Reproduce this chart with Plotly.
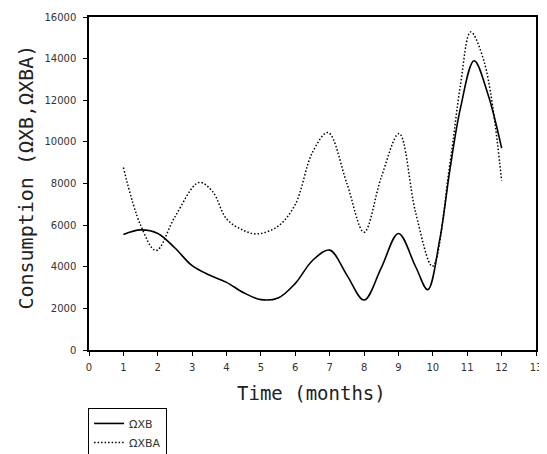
import plotly.graph_objects as go

# Values (months, consumption)
months_xb = [1.0, 1.5, 2.0, 2.5, 3.0, 3.5, 4.0, 4.5, 5.0, 5.5, 6.0, 6.5, 7.0, 7.5,
             8.0, 8.5, 9.0, 9.5, 9.85, 10.2, 10.5, 10.8, 11.2, 11.6, 12.0]
xb = [5550, 5770, 5600, 4900, 4050, 3600, 3250, 2750, 2420, 2500, 3200, 4300, 4800, 3600,
      2400, 3950, 5600, 4000, 2900, 5300, 8700, 11600, 13900, 12300, 9700]

months_xba = [1.0, 1.5, 1.95, 2.5, 3.2, 3.6, 4.0, 4.5, 4.9, 5.5, 6.0, 6.5, 6.95, 7.5,
              8.0, 8.5, 9.02, 9.5, 9.99, 10.5, 10.8, 11.1, 11.5, 12.0]
xba = [8770, 6000, 4780, 6400, 8050, 7600, 6300, 5740, 5580, 5950, 7000, 9500, 10450, 8000,
       5660, 8300, 10400, 6600, 4020, 9000, 12700, 15280, 13800, 8130]

x_ticks = list(range(0, 14))
y_ticks = list(range(0, 16001, 2000))

x_title = "Time (months)"
y_title = "Consumption (ΩXB,ΩXBA)"

fig = go.Figure()
fig.add_trace(go.Scatter(x=months_xb, y=xb, mode="lines", name="ΩXB",
                         line=dict(color="black", width=1.6, shape="spline", smoothing=1.0)))
fig.add_trace(go.Scatter(x=months_xba, y=xba, mode="lines", name="ΩXBA",
                         line=dict(color="black", width=1.5, dash="1.5px,2px",
                                   shape="spline", smoothing=1.0)))

tick_font = dict(family="DejaVu Sans", size=10, color="#333")

# page has an 8px body margin, so the figure is sized to fill the rest of the window
fig.update_layout(
    width=539, height=446,
    margin=dict(l=81, r=11, t=9, b=104, autoexpand=False),
    paper_bgcolor="white", plot_bgcolor="white",
    showlegend=True,
    legend=dict(x=-0.002, y=-0.174, xanchor="left", yanchor="top",
                bordercolor="black", borderwidth=1,
                font=dict(family="DejaVu Sans", size=11, color="#333"),
                bgcolor="white", itemwidth=30, tracegroupgap=0),
    xaxis=dict(range=[0, 13], tickvals=x_ticks, ticktext=[str(t) for t in x_ticks],
               showline=True, linecolor="black", linewidth=1.5, mirror=True,
               ticks="outside", ticklen=4, tickcolor="black", tickwidth=1.2,
               ticklabelstandoff=3,
               showgrid=False, zeroline=False, tickfont=tick_font, automargin=False),
    yaxis=dict(range=[0, 16000], tickvals=y_ticks, ticktext=[str(t) for t in y_ticks],
               showline=True, linecolor="black", linewidth=1.5, mirror=True,
               ticks="outside", ticklen=4, tickcolor="black", tickwidth=1.2,
               ticklabelstandoff=5,
               showgrid=False, zeroline=False, tickfont=tick_font, automargin=False),
    annotations=[
        dict(text=x_title, xref="paper", yref="paper", x=0.497, y=-0.129,
             xanchor="center", yanchor="middle", showarrow=False,
             font=dict(family="DejaVu Sans Mono", size=19, color="#222")),
        dict(text=y_title, xref="paper", yref="paper", x=-0.143, y=0.518,
             xanchor="center", yanchor="middle", showarrow=False,
             font=dict(family="DejaVu Sans Mono", size=20, color="#222"),
             textangle=-90),
    ],
)

fig.write_html("out.html")
